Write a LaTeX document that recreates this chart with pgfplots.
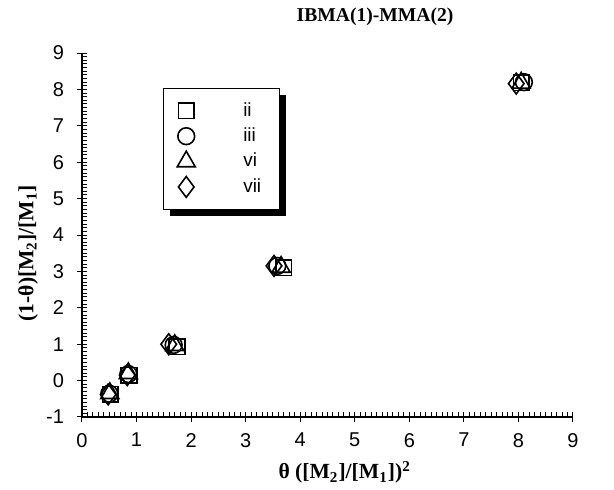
\documentclass[border=0pt]{standalone}
\usepackage{fontspec}
\setmainfont{Liberation Serif}
\newfontfamily\hv{Liberation Sans}
\usepackage{pgfplots}
\pgfplotsset{compat=1.18}
\usetikzlibrary{shadows}

\begin{document}
\begin{tikzpicture}
\begin{axis}[
  scale only axis,
  width=245.5pt, height=182pt,
  xmin=0, xmax=9, ymin=-1, ymax=9,
  axis x line=bottom, axis y line=left,
  axis line style={-, line width=0.6pt},
  xtick={0,...,9}, ytick={-1,0,...,9},
  minor x tick num=9, minor y tick num=9,
  tick align=center,
  major tick length=5pt, minor tick length=2.6pt,
  minor x tick style={yshift=1.3pt},
  minor y tick style={xshift=1.3pt},
  tick style={black, line width=0.5pt},
  /pgf/number format/assume math mode=true,
  ticklabel style={font=\hv\fontsize{10}{11}\selectfont},
  xticklabel style={yshift=-2pt},
  yticklabel style={xshift=-3pt},
  title={\textbf{IBMA(1)-MMA(2)}},
  title style={at={(0.597,1)}, anchor=base, yshift=10pt, font=\fontsize{9.8}{12}\selectfont},
  xlabel={\textbf{θ ([M\textsubscript{2}]/[M\textsubscript{1}])\textsuperscript{2}}},
  ylabel={\textbf{(1-θ)[M\textsubscript{2}]/[M\textsubscript{1}]}},
  label style={font=\fontsize{10.8}{12}\selectfont},
  xlabel style={at={(0.535,0)}, anchor=base, yshift=-31pt},
  ylabel style={at={(0,0.45)}, anchor=center, rotate=0, yshift=27pt},
  legend style={at={(axis cs:1.48,8.04)}, anchor=north west,
    draw=black, line width=0.5pt, fill=white,
    drop shadow={shadow xshift=3.2pt, shadow yshift=-3.5pt, fill=black, opacity=1},
    font=\hv\fontsize{9.5}{10}\selectfont,
    inner xsep=7pt, inner ysep=5pt,
    row sep=0.3pt},
  legend cell align=left,
  legend image code/.code={\draw[mark repeat=2,mark phase=2] plot coordinates {(0cm,0cm) (0.3cm,0cm) (0.6cm,0cm)};},
  every axis plot/.append style={only marks, black, line width=0.8pt, mark options={fill=white, solid}},
  clip=false,
]
\addplot[mark=square, mark size=3.9pt] coordinates {
  (0.52,-0.38) (0.86,0.15) (1.74,0.93) (3.70,3.10) (8.05,8.18)};
\addlegendentry{\hspace{22pt}ii}
\addplot[mark=o, mark size=4.2pt] coordinates {
  (0.50,-0.36) (0.85,0.18) (1.68,0.98) (3.58,3.15) (8.10,8.20)};
\addlegendentry{\hspace{22pt}iii}
\addplot[mark=triangle, mark size=5.2pt] coordinates {
  (0.51,-0.35) (0.85,0.20) (1.70,0.97) (3.65,3.12) (8.05,8.18)};
\addlegendentry{\hspace{22pt}vi}
\addplot[mark=diamond, mark size=5.2pt] coordinates {
  (0.48,-0.38) (0.83,0.15) (1.59,1.00) (3.52,3.15) (7.96,8.16)};
\addlegendentry{\hspace{22pt}vii}
\coordinate (o) at (rel axis cs:0,0);
\end{axis}
\pgfresetboundingbox
\path ([shift={(-41pt,-36.5pt)}]o) rectangle ++(307pt,245pt);
\end{tikzpicture}
\end{document}
